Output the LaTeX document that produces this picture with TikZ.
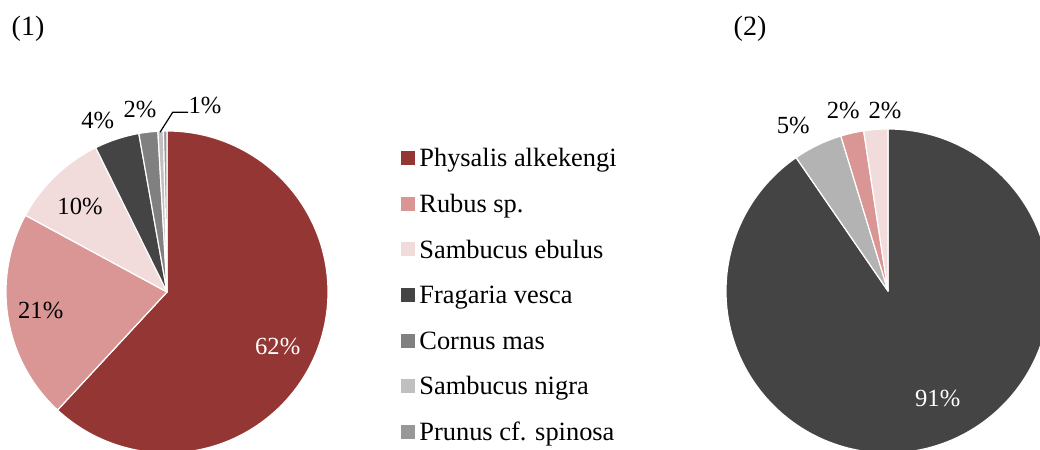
\documentclass[tikz,border=0pt]{standalone}
\usepackage{fontspec}
\setmainfont{Liberation Serif}
\definecolor{cPhys}{HTML}{943634}
\definecolor{cRubus}{HTML}{D99694}
\definecolor{cSEbul}{HTML}{F2DCDB}
\definecolor{cFrag}{HTML}{444444}
\definecolor{cCornus}{HTML}{808080}
\definecolor{cSNigra}{HTML}{C0C0C0}
\definecolor{cSNigraB}{HTML}{B3B3B3}
\definecolor{cPrunus}{HTML}{989898}
\tikzset{
  slice/.style={draw=white, line width=0.6bp, line join=round},
  pct/.style={inner sep=0pt, font=\fontsize{12.3bp}{14bp}\selectfont},
  ttl/.style={inner sep=0pt, font=\fontsize{14bp}{16bp}\selectfont},
  legtext/.style={inner sep=0pt, anchor=base west, font=\fontsize{13.2bp}{15bp}\selectfont},
  legbox/.style={minimum size=7bp, inner sep=0pt, outer sep=0pt},
  leader/.style={draw=black, line width=0.6bp}
}
% \pieslice{center}{radius}{start pct}{end pct}{color}
\newcommand{\mypieslice}[5]{%
  \pgfmathsetmacro{\aS}{90-3.6*#3}%
  \pgfmathsetmacro{\aE}{90-3.6*#4}%
  \fill[#5, slice] (#1) -- ++(\aS:#2) arc[start angle=\aS, end angle=\aE, radius=#2] -- cycle;%
}
\begin{document}
\begin{tikzpicture}[x=0.5bp, y=0.5bp]
\useasboundingbox (0,0) rectangle (1040,450);
\begin{scope}
\clip (0,0) rectangle (1040,450);
% pie 1
\coordinate (c1) at (167,158);
\mypieslice{c1}{161}{0}{61.9}{cPhys}
\mypieslice{c1}{161}{61.9}{82.9}{cRubus}
\mypieslice{c1}{161}{82.9}{92.7}{cSEbul}
\mypieslice{c1}{161}{92.7}{97.2}{cFrag}
\mypieslice{c1}{161}{97.2}{99.1}{cCornus}
\mypieslice{c1}{161}{99.1}{99.65}{cSNigra}
\mypieslice{c1}{161}{99.65}{100}{cPrunus}
% pie 2
\coordinate (c2) at (888,159);
\mypieslice{c2}{162}{0}{90.4}{cFrag}
\mypieslice{c2}{162}{90.4}{95.3}{cSNigraB}
\mypieslice{c2}{162}{95.3}{97.6}{cRubus}
\mypieslice{c2}{162}{97.6}{100}{cSEbul}
\end{scope}
% titles
\node[ttl] (t1) at (28,421) {(1)};
\node[ttl] (t2) at (750,421) {(2)};
% pie 1 labels
\node[pct, text=white] (l62) at (277.7,103.3) {62\%};
\node[pct] (l21) at (40.7,140) {21\%};
\node[pct] (l10) at (80,243.3) {10\%};
\node[pct] (l4) at (97.7,329.3) {4\%};
\node[pct] (l2) at (140,340.7) {2\%};
\node[pct] (l1) at (205,345) {1\%};
\coordinate (ld1) at (160,317.7);
\coordinate (ld2) at (172.7,337.7);
\draw[leader] (ld1) -- (ld2) -- (l1.west |- ld2);
% pie 2 labels
\node[pct, text=white] (l91) at (937.7,51.7) {91\%};
\node[pct] (l5) at (793.3,325) {5\%};
\node[pct] (l2a) at (843.3,339.3) {2\%};
\node[pct] (l2b) at (885,339.3) {2\%};
% legend
\foreach \i/\col/\txt in {0/cPhys/Physalis alkekengi, 1/cRubus/Rubus sp., 2/cSEbul/Sambucus ebulus, 3/cFrag/Fragaria vesca, 4/cCornus/Cornus mas, 5/cSNigra/Sambucus nigra, 6/cPrunus/Prunus cf. spinosa}{
  \pgfmathsetmacro{\yy}{450-158.3-45.6*\i}
  \node[legbox, fill=\col] (lb\i) at (408,\yy) {};
  \node[legtext] (lt\i) at (419,\yy-8.7) {\txt};
}
\end{tikzpicture}
\end{document}
